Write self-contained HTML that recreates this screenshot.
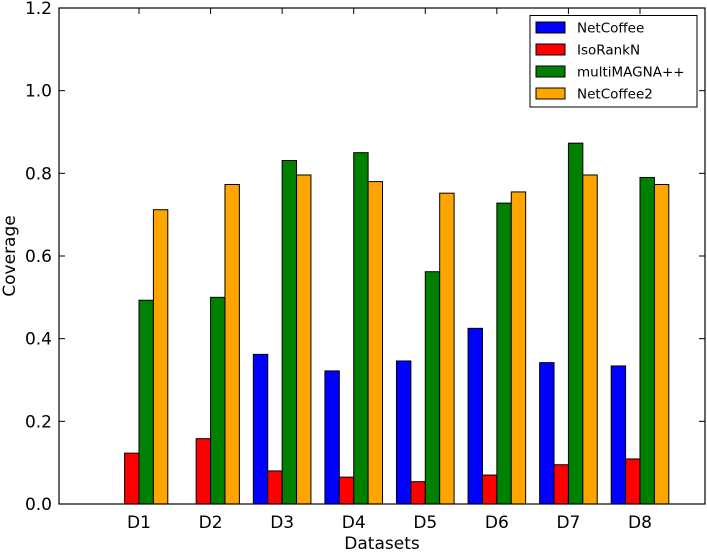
<!DOCTYPE html>
<html><head><meta charset="utf-8"><style>
body{margin:0;background:#fff;}
svg text{font-family:"DejaVu Sans","Liberation Sans",sans-serif;fill:#000;}
</style></head><body>
<svg id="chart" width="707" height="552" xmlns="http://www.w3.org/2000/svg"></svg>
<script>
const categories=["D1","D2","D3","D4","D5","D6","D7","D8"];
const seriesNames=["NetCoffee","IsoRankN","multiMAGNA++","NetCoffee2"];
const netcoffee=[0,0,0.362,0.322,0.346,0.425,0.342,0.334];
const isorankn=[0.123,0.158,0.080,0.065,0.054,0.070,0.095,0.109];
const multimagna=[0.493,0.500,0.831,0.850,0.562,0.728,0.873,0.790];
const netcoffee2=[0.712,0.773,0.796,0.780,0.752,0.755,0.796,0.773];
const yTicks=[0.0,0.2,0.4,0.6,0.8,1.0,1.2];
const seriesList=[netcoffee,isorankn,multimagna,netcoffee2];
const colors=["#0000ff","#ff0000","#008000","#ffa500"];
const NS="http://www.w3.org/2000/svg";
const svg=document.getElementById('chart');
const L=59,R=705,T=8,B=504;
const x0=139,step=(640-139)/7,bw=14.4;
function xc(i){return x0+i*step;}
function y(v){return B-(v/1.2)*(B-T);}
function mk(tag,attrs,parent){const e=document.createElementNS(NS,tag);for(const k in attrs)e.setAttribute(k,attrs[k]);(parent||svg).appendChild(e);return e;}
// bars
seriesList.forEach((s,si)=>{
  s.forEach((v,i)=>{
    const r=mk('rect',{x:xc(i)-2*bw+si*bw,y:y(v),width:bw,height:B-y(v),fill:colors[si],stroke:'#000','stroke-width':1});
    
    
  });
});
// frame
const fr=mk('rect',{x:L,y:T,width:R-L,height:B-T,fill:'none',stroke:'#000','stroke-width':1.2});


// y ticks
yTicks.forEach(t=>{
  const yy=y(t);
  mk('line',{x1:L,x2:L+6,y1:yy,y2:yy,stroke:'#000'});
  mk('line',{x1:R,x2:R-6,y1:yy,y2:yy,stroke:'#000'});
  const tx=mk('text',{x:L-7,y:yy+6,'text-anchor':'end','font-size':17});
  tx.textContent=t.toFixed(1);
  
  
});
// x ticks
categories.forEach((c,i)=>{
  const xx=xc(i);
  mk('line',{x1:xx,x2:xx,y1:B,y2:B-6,stroke:'#000'});
  mk('line',{x1:xx,x2:xx,y1:T,y2:T+6,stroke:'#000'});
  const tx=mk('text',{x:xx,y:528,'text-anchor':'middle','font-size':17});
  tx.textContent=c;
  
  
});
const xt=mk('text',{x:382,y:549,'text-anchor':'middle','font-size':17});
xt.textContent='Datasets';


const yt=mk('text',{x:0,y:0,'text-anchor':'middle','font-size':17,transform:'translate(15,256) rotate(-90)'});
yt.textContent='Coverage';


// legend
const lg=mk('g',{});


mk('rect',{x:530,y:15.5,width:167,height:91.5,fill:'#fff',stroke:'#000','stroke-width':1},lg);
seriesNames.forEach((n,i)=>{
  const yy=27.5+i*22;
  const p=mk('rect',{x:536,y:yy-5.5,width:29,height:11,fill:colors[i],stroke:'#000'},lg);
  
  
  const tx=mk('text',{x:577,y:yy+5,'font-size':13.5},lg);
  tx.textContent=n;
  
  
});
</script>
</body></html>
